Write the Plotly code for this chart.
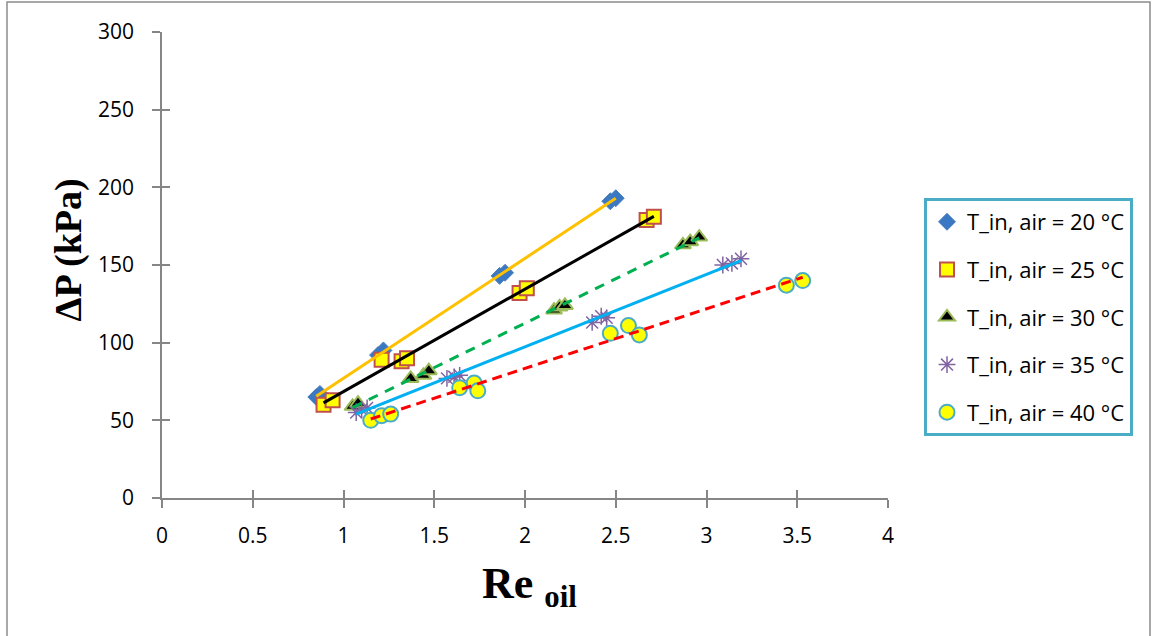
import numpy as np
import plotly.graph_objects as go

# ---- data ----
x20 = [0.85, 0.87, 1.19, 1.22, 1.86, 1.89, 2.47, 2.50]
y20 = [65, 67, 92, 95, 143, 145, 191, 193]

x25 = [0.89, 0.94, 1.21, 1.32, 1.35, 1.97, 2.01, 2.67, 2.71]
y25 = [60, 63, 89, 88, 90, 132, 135, 179, 181]

x30 = [1.05, 1.08, 1.37, 1.44, 1.47, 2.16, 2.19, 2.22, 2.87, 2.91, 2.96]
y30 = [59, 61, 77, 79, 82, 121, 123, 124, 163, 165, 168]

x35 = [1.07, 1.10, 1.13, 1.57, 1.61, 1.64, 2.37, 2.42, 2.45, 3.09, 3.14, 3.19]
y35 = [55, 57, 58, 77, 78, 79, 113, 117, 116, 150, 151, 154]

x40 = [1.15, 1.21, 1.26, 1.64, 1.72, 1.74, 2.47, 2.57, 2.63, 3.44, 3.53]
y40 = [50, 53, 54, 71, 74, 69, 106, 111, 105, 137, 140]

names = ["T_in, air = 20 °C", "T_in, air = 25 °C", "T_in, air = 30 °C",
         "T_in, air = 35 °C", "T_in, air = 40 °C"]

series = [(x20, y20), (x25, y25), (x30, y30), (x35, y35), (x40, y40)]

marker_styles = [
    dict(symbol="diamond", size=13, color="#3A78C3", line=dict(color="#4A7EBB", width=1)),
    dict(symbol="square", size=14, color="#FFFF00", line=dict(color="#C0504D", width=2)),
    dict(symbol="triangle-up", size=14, color="#000000", line=dict(color="#9BBB59", width=2)),
    dict(symbol="asterisk-open", size=14, color="#8064A2", line=dict(color="#8064A2", width=1.5)),
    dict(symbol="circle", size=15, color="#FFFF00", line=dict(color="#4BACC6", width=2)),
]

trend_styles = [
    dict(color="#FFC000", width=3),
    dict(color="#000000", width=3),
    dict(color="#00B050", width=3, dash="10px,8px"),
    dict(color="#00B0F0", width=3),
    dict(color="#FF0000", width=3, dash="10px,6px"),
]

fig = go.Figure()

for i, ((xs, ys), nm, ms) in enumerate(zip(series, names, marker_styles)):
    fig.add_trace(go.Scatter(x=xs, y=ys, mode="markers", name=nm, marker=ms,
                             legendgroup=f"g{i}", hoverinfo="skip"))

# linear trendlines (least-squares fit of each series, spanning its x-range)
for i, ((xs, ys), ls) in enumerate(zip(series, trend_styles)):
    k, b = np.polyfit(xs, ys, 1)
    xe = [min(xs), max(xs)]
    fig.add_trace(go.Scatter(x=xe, y=[k * v + b for v in xe], mode="lines",
                             line=ls, showlegend=False, hoverinfo="skip",
                             legendgroup=f"g{i}"))

# dummy trace on overlay axes (for crossing tick marks)
fig.add_trace(go.Scatter(x=[None], y=[None], xaxis="x2", yaxis="y2",
                         showlegend=False, hoverinfo="skip"))

axis_col = "#868686"
tick_font = dict(family="Open Sans, DejaVu Sans, sans-serif", size=21, color="#000000")

fig.update_layout(
    width=1153, height=636, autosize=False,
    paper_bgcolor="white", plot_bgcolor="white",
    margin=dict(l=162, r=265, t=32, b=138),
    showlegend=True,
    xaxis=dict(range=[0, 4], dtick=0.5, tick0=0, showgrid=False, zeroline=False,
               showline=True, linecolor=axis_col, linewidth=1.5,
               ticks="outside", ticklen=8, tickcolor=axis_col, tickwidth=1.5,
               tickfont=tick_font, ticklabelstandoff=10),
    yaxis=dict(range=[0, 300], dtick=50, tick0=0, showgrid=False, zeroline=False,
               showline=True, linecolor=axis_col, linewidth=1.5,
               ticks="outside", ticklen=8, tickcolor=axis_col, tickwidth=1.5,
               tickfont=tick_font, ticklabelstandoff=14),
    xaxis2=dict(range=[0, 4], dtick=0.5, tick0=0, overlaying="x", anchor="y",
                showgrid=False, zeroline=False, showline=False, showticklabels=False,
                ticks="inside", ticklen=8, tickcolor=axis_col, tickwidth=1.5),
    yaxis2=dict(range=[0, 300], dtick=50, tick0=0, overlaying="y", anchor="x",
                showgrid=False, zeroline=False, showline=False, showticklabels=False,
                ticks="inside", ticklen=8, tickcolor=axis_col, tickwidth=1.5),
    legend=dict(x=1.0496, y=0.6438, xanchor="left", yanchor="top",
                bordercolor="#4BACC6", borderwidth=3, bgcolor="white",
                font=dict(family="Open Sans, DejaVu Sans, sans-serif", size=22, color="#000000"),
                tracegroupgap=16, traceorder="grouped"),
    annotations=[
        dict(text="<b>ΔP (kPa)</b>", xref="paper", yref="paper",
             x=-0.129, y=0.532, textangle=-90, showarrow=False,
             xanchor="center", yanchor="middle",
             font=dict(family="Liberation Serif, Times New Roman, serif", size=38, color="#000000")),
        dict(text="<b>Re </b><sub><b>oil</b></sub>", xref="paper", yref="paper",
             x=0.506, y=-0.19, showarrow=False, xanchor="center", yanchor="middle",
             font=dict(family="Liberation Serif, Times New Roman, serif", size=44, color="#000000")),
    ],
    shapes=[
        dict(type="rect", xref="paper", yref="paper",
             x0=-0.2135, x1=1.3609, y0=-0.32, y1=1.0644,
             line=dict(color="#8C8C8C", width=1.5), fillcolor="rgba(0,0,0,0)", layer="below"),
    ],
)

fig.write_html("out.html", config={"displayModeBar": False},
               post_script="document.body.style.margin='0';")
